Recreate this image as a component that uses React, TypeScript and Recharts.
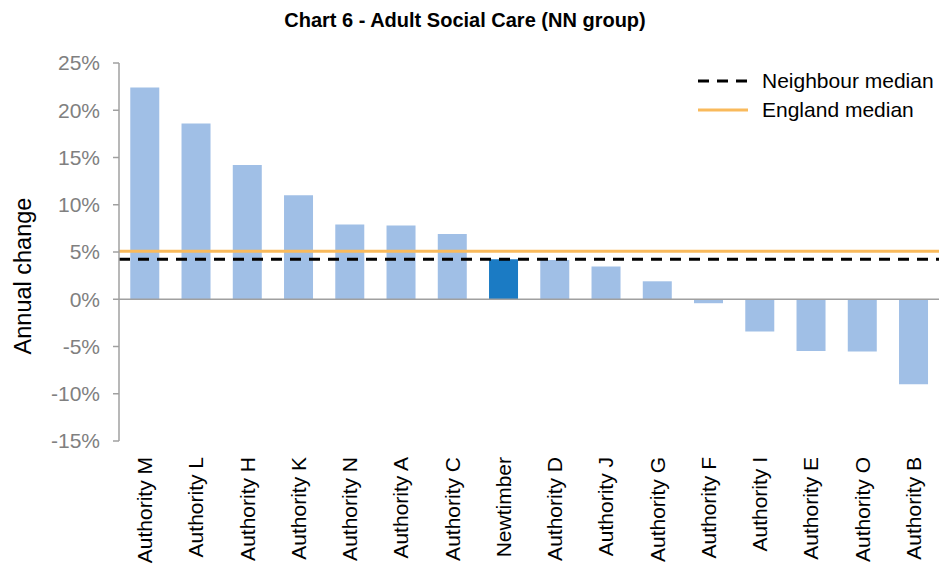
import React from 'react';
import { ComposedChart, Bar, Cell, XAxis, YAxis, ReferenceLine, Legend, Label } from 'recharts';

const categories = [
  'Authority M', 'Authority L', 'Authority H', 'Authority K', 'Authority N', 'Authority A',
  'Authority C', 'Newtimber', 'Authority D', 'Authority J', 'Authority G', 'Authority F',
  'Authority I', 'Authority E', 'Authority O', 'Authority B',
];
const annualChange = [22.4, 18.6, 14.2, 11.0, 7.9, 7.8, 6.9, 4.24, 4.16, 3.46, 1.9, -0.42, -3.4, -5.47, -5.54, -9.0];
const highlight = 'Newtimber';
const neighbourMedian = 4.24;
const englandMedian = 5.08;
const yTicks = [-15, -10, -5, 0, 5, 10, 15, 20, 25];

const data = categories.map((name, i) => ({ name, value: annualChange[i] }));

const FONT = '"Liberation Sans", Arial, sans-serif';

const XTick = (props: any) => {
  const { x, y, payload } = props;
  return (
    <text
      x={x}
      y={y}
      transform={`rotate(-90, ${x}, ${y})`}
      textAnchor="end"
      dy="0.36em"
      fontSize={21}
      fontFamily={FONT}
      fill="#000"
    >
      {payload.value}
    </text>
  );
};

const LegendContent = () => (
  <div style={{ fontFamily: FONT, fontSize: 21, color: '#000', lineHeight: '29px' }}>
    <div style={{ display: 'flex', alignItems: 'center' }}>
      <svg width={64} height={10}>
        <line x1={0} y1={5} x2={50} y2={5} stroke="#000" strokeWidth={3} strokeDasharray="11 8" />
      </svg>
      <span>Neighbour median</span>
    </div>
    <div style={{ display: 'flex', alignItems: 'center' }}>
      <svg width={64} height={10}>
        <line x1={0} y1={5} x2={50} y2={5} stroke="#F9BA5C" strokeWidth={3} />
      </svg>
      <span>England median</span>
    </div>
  </div>
);

export default function App() {
  return (
    <div style={{ position: 'absolute', left: 0, top: 0, width: 941, height: 568, background: '#fff' }}>
      <div
        style={{
          position: 'absolute',
          left: 0,
          width: 930,
          top: 8,
          textAlign: 'center',
          fontFamily: FONT,
          fontWeight: 'bold',
          fontSize: 20,
          color: '#000',
          lineHeight: '24px',
        }}
      >
        Chart 6 - Adult Social Care (NN group)
      </div>
      <ComposedChart
        width={941}
        height={568}
        data={data}
        margin={{ top: 63, right: 2, bottom: 0, left: 19 }}
        barCategoryGap="22%"
      >
        <XAxis
          dataKey="name"
          axisLine={false}
          tickLine={false}
          tickSize={0}
          tickMargin={16}
          height={127}
          interval={0}
          tick={<XTick />}
        />
        <YAxis
          width={100}
          domain={[-15, 25]}
          ticks={yTicks}
          interval={0}
          tickFormatter={(v: number) => `${v}%`}
          tick={{ fill: '#808080', fontSize: 21, fontFamily: FONT }}
          axisLine={{ stroke: '#A0A0A0', strokeWidth: 1.5 }}
          tickLine={{ stroke: '#A0A0A0', strokeWidth: 1.5 }}
          tickSize={6}
          tickMargin={13}
        >
          <Label
            content={(p: any) => {
              const vb = p.viewBox;
              const cx = 23;
              const cy = vb.y + vb.height / 2 + 24;
              return (
                <text
                  x={cx}
                  y={cy}
                  transform={`rotate(-90, ${cx}, ${cy})`}
                  textAnchor="middle"
                  dy="0.36em"
                  fontSize={23.5}
                  fontFamily={FONT}
                  fill="#000"
                >
                  Annual change
                </text>
              );
            }}
          />
        </YAxis>
        <Legend
          layout="vertical"
          verticalAlign="middle"
          align="center"
          wrapperStyle={{ position: 'absolute', top: 66, left: 698, width: 240 }}
          content={<LegendContent />}
        />
        <Bar dataKey="value" isAnimationActive={false} legendType="none">
          {data.map((d) => (
            <Cell key={d.name} fill={d.name === highlight ? '#1B7BC4' : '#A0BFE6'} />
          ))}
        </Bar>
        <ReferenceLine y={0} stroke="#A0A0A0" strokeWidth={1.5} />
        <ReferenceLine y={englandMedian} stroke="#F9BA5C" strokeWidth={3} />
        <ReferenceLine y={neighbourMedian} stroke="#000" strokeWidth={3} strokeDasharray="11 8" />
      </ComposedChart>
    </div>
  );
}
